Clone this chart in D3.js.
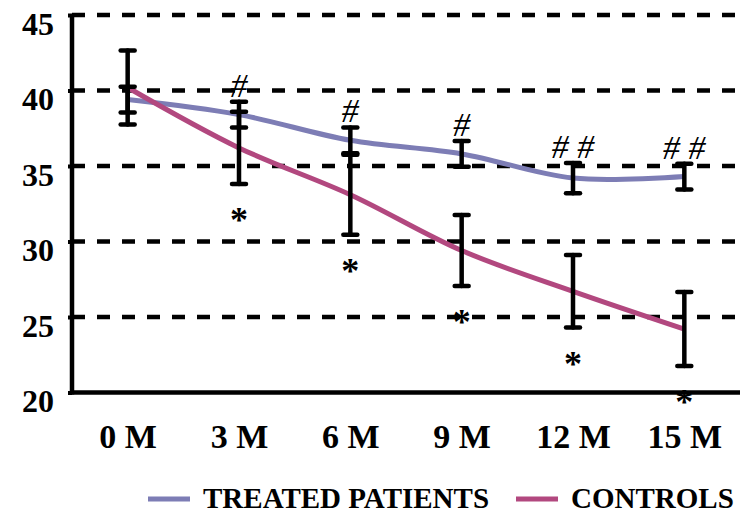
<!DOCTYPE html>
<html>
<head>
<meta charset="utf-8">
<script src="https://cdn.jsdelivr.net/npm/d3@7"></script>
<style>
  html, body { margin: 0; padding: 0; background: #fff; }
  svg { display: block; }
  svg text { font-family: "Liberation Serif", "Times New Roman", serif; font-weight: bold; fill: #000; }
</style>
</head>
<body>
<svg id="chart" width="743" height="513"></svg>
<script>
// Follow-up months
const months = ["0 M", "3 M", "6 M", "9 M", "12 M", "15 M"];
// Treated patients: mean and error
const treatedMean = [39.4, 38.4, 36.7, 35.8, 34.2, 34.3];
const treatedErr  = [0.85, 0.85, 0.85, 0.85, 1.0, 0.85];
// Controls: mean and error
const controlMean = [40.2, 36.2, 33.1, 29.4, 26.7, 24.2];
const controlErr  = [2.45, 2.4, 2.65, 2.35, 2.4, 2.45];
// Significance marks
const treatedMarks = ["", "#", "#", "#", "# #", "# #"];
const controlMarks = ["", "*", "*", "*", "*", "*"];
// Y axis ticks
const yTicks = [20, 25, 30, 35, 40, 45];

const seriesNames = ["TREATED PATIENTS", "CONTROLS"];
const seriesColors = ["#7d7db5", "#b2487f"];

const svg = d3.select("#chart");
const plotLeft = 72, plotRight = 740, plotTop = 15, plotBottom = 392.5;

const x = d3.scalePoint().domain(months).range([plotLeft, plotRight]).padding(0.5);
const y = d3.scaleLinear().domain([20, 45]).range([plotBottom, plotTop]);

// dashed gridlines (skip the baseline)
svg.append("g").selectAll("line")
  .data(yTicks.filter(t => t > 20))
  .join("line")
  .attr("x1", plotLeft).attr("x2", plotRight)
  .attr("y1", d => y(d)).attr("y2", d => y(d))
  .attr("stroke", "#000").attr("stroke-width", 4.5)
  .attr("stroke-dasharray", "13,12");

// y axis
const yAxis = svg.append("g")
  .attr("transform", `translate(${plotLeft},0)`)
  .call(d3.axisLeft(y).tickValues(yTicks).tickSize(4).tickPadding(14));
yAxis.attr("font-family", null);
yAxis.select(".domain").attr("stroke", "#000").attr("stroke-width", 4.5)
  .attr("d", `M0,${plotTop - 1}V${plotBottom + 2}`);
yAxis.selectAll(".tick line").attr("stroke", "#000").attr("stroke-width", 4);
yAxis.selectAll(".tick text")
  .attr("font-size", 32).attr("dy", "0.6em");

// x axis
const xAxis = svg.append("g")
  .attr("transform", `translate(0,${plotBottom})`)
  .call(d3.axisBottom(x).tickSize(0).tickPadding(32));
xAxis.attr("font-family", null);
xAxis.select(".domain").attr("stroke", "#000").attr("stroke-width", 4.5)
  .attr("d", `M${plotLeft - 2},0H${plotRight}`);
xAxis.selectAll(".tick text")
  .attr("font-size", 34).attr("dy", "0.7em");

// series lines
const line = d3.line()
  .x((d, i) => x(months[i]))
  .y(d => y(d))
  .curve(d3.curveCatmullRom.alpha(0.5));

[treatedMean, controlMean].forEach((vals, k) => {
  svg.append("path")
    .datum(vals)
    .attr("d", line)
    .attr("fill", "none")
    .attr("stroke", seriesColors[k])
    .attr("stroke-width", 5);
});

// error bars
function errorBars(means, errs) {
  const g = svg.append("g")
    .attr("stroke", "#000").attr("stroke-width", 4.5).attr("stroke-linecap", "round");
  means.forEach((m, i) => {
    const cx = x(months[i]);
    const hi = y(m + errs[i]), lo = y(m - errs[i]);
    g.append("line").attr("x1", cx).attr("x2", cx).attr("y1", hi).attr("y2", lo);
    g.append("line").attr("x1", cx - 7).attr("x2", cx + 7).attr("y1", hi).attr("y2", hi);
    g.append("line").attr("x1", cx - 7).attr("x2", cx + 7).attr("y1", lo).attr("y2", lo);
  });
}
errorBars(controlMean, controlErr);
errorBars(treatedMean, treatedErr);

// significance marks
svg.append("g").selectAll("text")
  .data(treatedMarks)
  .join("text")
  .attr("x", (d, i) => x(months[i]))
  .attr("y", (d, i) => y(treatedMean[i] + treatedErr[i]) - 5)
  .attr("text-anchor", "middle")
  .attr("font-size", 34).style("font-weight", "normal").style("font-style", "italic")
  .text(d => d);

svg.append("g").selectAll("text")
  .data(controlMarks)
  .join("text")
  .attr("x", (d, i) => x(months[i]))
  .attr("y", (d, i) => y(controlMean[i] - controlErr[i]) + 48)
  .attr("text-anchor", "middle")
  .attr("font-size", 36)
  .text(d => d);

// legend
const legendX = [148, 516];
const legend = svg.append("g");
seriesNames.forEach((name, k) => {
  legend.append("line")
    .attr("x1", legendX[k]).attr("x2", legendX[k] + 42)
    .attr("y1", 499).attr("y2", 499)
    .attr("stroke", seriesColors[k]).attr("stroke-width", 5);
  legend.append("text")
    .attr("x", legendX[k] + 55).attr("y", 508)
    .attr("font-size", 29)
    .text(name);
});
</script>
</body>
</html>
